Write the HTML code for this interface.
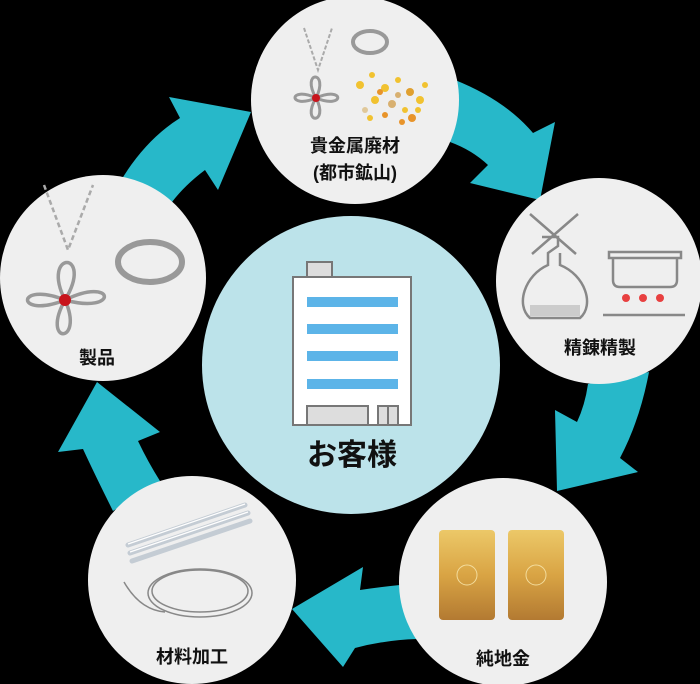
<!DOCTYPE html>
<html><head><meta charset="utf-8"><style>
html,body{margin:0;padding:0;background:#000;}
svg{display:block}
text{font-family:"Liberation Sans","Noto Sans CJK JP",sans-serif;font-weight:bold;fill:#111;text-anchor:middle}
</style></head><body>
<svg width="700" height="684" viewBox="0 0 700 684" xmlns="http://www.w3.org/2000/svg">
<defs>
<linearGradient id="gold" x1="0" y1="0" x2="0" y2="1">
<stop offset="0" stop-color="#ecc868"/><stop offset="0.5" stop-color="#d9a444"/><stop offset="1" stop-color="#b37a32"/>
</linearGradient>
</defs>
<rect width="700" height="684" fill="#000"/>
<g fill="#27b8c9">
<path d="M120,182 Q145,140 180,118 L169,97 L251,112 L218,190 L205,170 Q185,185 172,202 Z"/>
<path d="M455,80 Q505,100 533,133 L555,122 L540,200 L470,183 L488,165 Q472,150 450,142 Z"/>
<path d="M649,372 Q640,420 620,458 L638,472 L557,491 L555,410 L577,422 Q585,405 588,384 Z"/>
<path d="M400,585 Q380,587 360,590 L363,567 L292,609 L343,667 L355,648 Q385,640 417,639 Z"/>
<path d="M113,511 Q95,475 83,449 L58,452 L97,382 L160,432 L138,441 Q148,462 160,481 Z"/>
</g>
<circle cx="351" cy="365" r="149" fill="#bce3ea"/>
<circle cx="355" cy="100" r="104" fill="#efefef"/>
<circle cx="599" cy="281" r="103" fill="#efefef"/>
<circle cx="503" cy="582" r="104" fill="#efefef"/>
<circle cx="192" cy="580" r="104" fill="#efefef"/>
<circle cx="103" cy="278" r="103" fill="#efefef"/>

<rect x="307" y="262" width="25" height="15" fill="#ddd" stroke="#777" stroke-width="2"/>
<rect x="293" y="277" width="118" height="148" fill="#fff" stroke="#777" stroke-width="2"/>
<g fill="#5cb4e8">
<rect x="307" y="297" width="91" height="10"/><rect x="307" y="324" width="91" height="10"/>
<rect x="307" y="351" width="91" height="10"/><rect x="307" y="379" width="91" height="10"/>
</g>
<rect x="307" y="406" width="61" height="19" fill="#ddd" stroke="#777" stroke-width="2"/>
<rect x="378" y="406" width="20" height="19" fill="#ddd" stroke="#777" stroke-width="2"/>
<line x1="388" y1="406" x2="388" y2="425" stroke="#777" stroke-width="2"/>
<text x="352" y="465" font-size="30">お客様</text>

<g fill="none" stroke="#aaa" stroke-width="2">
<path d="M304,28 L318,70 L332,28" stroke-dasharray="4 2"/>
<path d="M316,98 C300,70 330,70 316,98 C345,85 345,110 316,98 C330,125 300,125 316,98 C288,110 288,85 316,98 Z" stroke="#999" stroke-width="3"/>
<ellipse cx="370" cy="42" rx="17" ry="11" stroke="#999" stroke-width="4"/>
</g>
<circle cx="316" cy="98" r="4" fill="#c8141c"/>
<g fill="#f1c230">
<circle cx="360" cy="85" r="4"/><circle cx="372" cy="75" r="3"/><circle cx="385" cy="88" r="4"/><circle cx="398" cy="80" r="3"/>
<circle cx="410" cy="92" r="4" fill="#e0a030"/><circle cx="375" cy="100" r="4"/><circle cx="392" cy="104" r="4" fill="#d8b070"/>
<circle cx="405" cy="110" r="3"/><circle cx="420" cy="100" r="4"/><circle cx="385" cy="115" r="3" fill="#e8942a"/>
<circle cx="365" cy="110" r="3" fill="#e0c89a"/><circle cx="412" cy="118" r="4" fill="#e8942a"/><circle cx="425" cy="85" r="3"/>
<circle cx="398" cy="95" r="3" fill="#d8b070"/><circle cx="380" cy="92" r="3" fill="#e8942a"/>
<circle cx="418" cy="110" r="3"/><circle cx="370" cy="118" r="3"/><circle cx="402" cy="122" r="3" fill="#e8942a"/>
</g>
<text x="355" y="152" font-size="18">貴金属廃材</text>
<text x="355" y="179" font-size="18">(都市鉱山)</text>

<g fill="none" stroke="#888" stroke-width="2.5">
<line x1="530" y1="214" x2="576" y2="254"/><line x1="578" y1="214" x2="532" y2="254"/>
<path d="M542,237 L558,237 L558,246 L548,253 L548,265 C525,275 515,305 530,318 L580,318 C595,305 585,275 560,265 L560,253"/>
<rect x="609" y="252" width="72" height="6"/>
<path d="M613,258 L613,280 Q613,287 620,287 L670,287 Q677,287 677,280 L677,258"/>
<line x1="603" y1="315" x2="685" y2="315"/>
</g>
<path d="M530,305 L580,305 L580,316 L530,316 Z" fill="#ccc"/>
<g fill="#e84040"><circle cx="626" cy="298" r="4"/><circle cx="643" cy="298" r="4"/><circle cx="660" cy="298" r="4"/></g>
<text x="600" y="354" font-size="18">精錬精製</text>

<rect x="439" y="530" width="56" height="90" rx="4" fill="url(#gold)"/>
<rect x="508" y="530" width="56" height="90" rx="4" fill="url(#gold)"/>
<circle cx="467" cy="575" r="10" fill="none" stroke="#f3dc9c" stroke-width="1"/>
<circle cx="536" cy="575" r="10" fill="none" stroke="#f3dc9c" stroke-width="1"/>
<text x="503" y="665" font-size="18">純地金</text>

<g stroke="#c4ccd4" stroke-width="5" stroke-linecap="round">
<line x1="128" y1="545" x2="245" y2="505"/><line x1="130" y1="553" x2="248" y2="513"/><line x1="132" y1="561" x2="250" y2="521"/>
</g>
<g stroke="#fff" stroke-width="1.2"><line x1="128" y1="544" x2="245" y2="504"/><line x1="130" y1="552" x2="248" y2="512"/></g>
<g fill="none" stroke="#888" stroke-width="1.5">
<ellipse cx="200" cy="593" rx="52" ry="24"/><ellipse cx="200" cy="591" rx="48" ry="21"/>
<path d="M124,582 Q140,610 165,612"/>
</g>
<text x="192" y="663" font-size="18">材料加工</text>

<g fill="none" stroke="#aaa" stroke-width="2.5">
<path d="M44,185 L68,250 L93,185" stroke-dasharray="5 3"/>
<path d="M65,300 C40,250 95,250 65,300 C115,275 120,315 65,300 C85,345 40,345 65,300 C15,320 15,280 65,300 Z" stroke="#999" stroke-width="3.5"/>
<ellipse cx="150" cy="262" rx="32" ry="20" stroke="#999" stroke-width="6"/>
</g>
<circle cx="65" cy="300" r="6" fill="#c8141c"/>
<text x="97" y="364" font-size="18">製品</text>
</svg>
</body></html>
